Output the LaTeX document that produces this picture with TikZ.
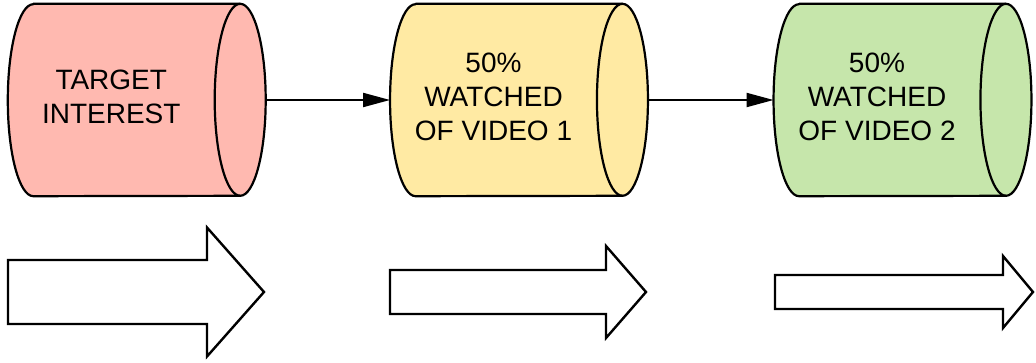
\documentclass[tikz,border=0pt]{standalone}
\usepackage{fontspec}
\setmainfont{Liberation Sans}
\usepackage{tikz}
\usetikzlibrary{arrows.meta}
\usetikzlibrary{positioning}
\usetikzlibrary{backgrounds}
\definecolor{StagePink}{RGB}{255,185,176}
\definecolor{StageYellow}{RGB}{255,234,163}
\definecolor{StageGreen}{RGB}{198,230,171}

\begin{document}
\begin{tikzpicture}[x=1pt, y=-1pt,
  stage/.style={minimum width=206.5pt, minimum height=192pt, inner sep=0pt,
    align=center, text depth=7pt, font=\fontsize{28}{34}\selectfont},
  rim/.style={line width=2.2pt, line join=round},
  flow/.style={line width=2pt, -{Triangle[length=27pt, width=14pt]}},
  bigarrow/.style={line width=2.4pt, fill=white, line join=miter}]

\useasboundingbox (0,0) rectangle (1036,363);

% end ellipse radii
\def \rx {25.5pt}
\def \ry {96pt}

% The stages (front part, text centred there)
\node[stage] (target) at (111.25,100) {TARGET\\INTEREST};
\node[stage] (video1) at (493.5,100)  {50\%\\WATCHED\\OF VIDEO 1};
\node[stage] (video2) at (877,100)    {50\%\\WATCHED\\OF VIDEO 2};

% cylinder bodies round the stages
\begin{scope}[on background layer]
\foreach \n/\c in {target/StagePink, video1/StageYellow, video2/StageGreen}
{
  \draw[rim, fill=\c] ([xshift=\rx]\n.north west) -- ([xshift=\rx]\n.north east)
    arc[start angle=90, end angle=-90, x radius=\rx, y radius=\ry]
    -- ([xshift=\rx]\n.south west)
    arc[start angle=270, end angle=90, x radius=\rx, y radius=\ry] -- cycle;
  \draw[rim] ([xshift=\rx]\n.north east)
    arc[start angle=90, end angle=270, x radius=\rx, y radius=\ry];
}
\end{scope}

% connectors between stages
\draw[flow] ([xshift=51pt]target.east) -- (video1.west);
\draw[flow] ([xshift=51pt]video1.east) -- (video2.west);

% block arrows below, getting thinner
\foreach \xl/\xb/\xt/\sh/\hh in {8/207/264/32/64.5, 390/606/646/22/46, 775/1003/1033/17/36}
{
  \draw[bigarrow] (\xl, 292-\sh) -- (\xb, 292-\sh) -- (\xb, 292-\hh) -- (\xt, 292)
    -- (\xb, 292+\hh) -- (\xb, 292+\sh) -- (\xl, 292+\sh) -- cycle;
}

\end{tikzpicture}
\end{document}
